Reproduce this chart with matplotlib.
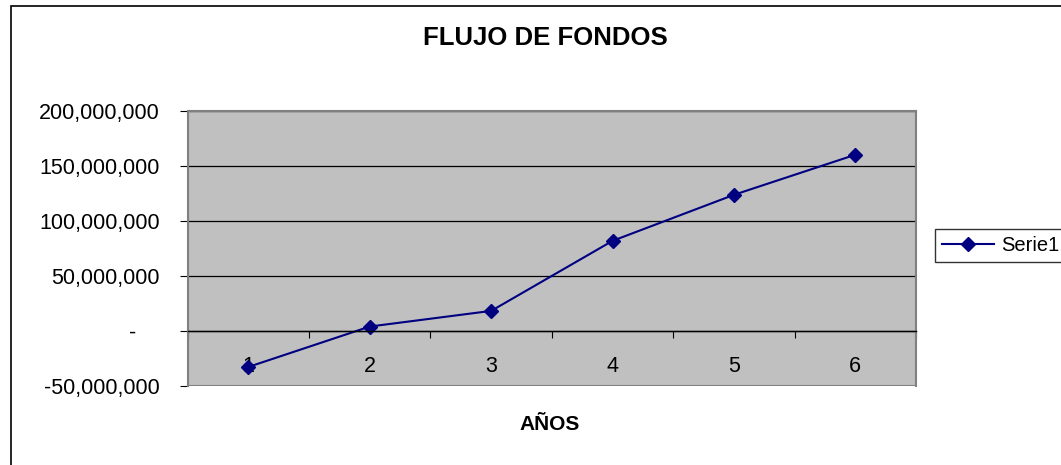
import matplotlib.pyplot as plt
from matplotlib.patches import Rectangle

# data
years = [1, 2, 3, 4, 5, 6]
flujo = [-32700000, 4000000, 18200000, 81800000, 123600000, 160000000]
ytick_vals = [-50000000, 0, 50000000, 100000000, 150000000, 200000000]
ytick_labels = ["-50,000,000", "-    ", "50,000,000", "100,000,000", "150,000,000", "200,000,000"]
serie_name = "Serie1"

plt.rcParams['font.family'] = ['Liberation Sans', 'DejaVu Sans']

W, H = 1061, 465
fig = plt.figure(figsize=(W / 100, H / 100), dpi=100)
fig.patch.set_facecolor('white')

# borde exterior del grafico
fig.patches.append(Rectangle((11 / W, -0.5), 2, 1.5 - 6 / H, transform=fig.transFigure,
                             fill=False, edgecolor='black', lw=1.2))

ax = fig.add_axes([187.7 / W, 1 - 386 / H, (916 - 187.7) / W, (386 - 110.7) / H])
ax.set_facecolor('#C0C0C0')

ax.plot(years, flujo, color='#000080', lw=1.5, marker='D', markersize=7,
        markerfacecolor='#000080', markeredgecolor='#000080', label=serie_name)

ax.set_xlim(0.5, 6.5)
ax.set_ylim(-50000000, 200000000)

# lineas de division
for v in ytick_vals:
    ax.axhline(v, color='black', lw=0.9, zorder=0.5)

ax.set_yticks(ytick_vals)
ax.set_yticklabels(ytick_labels, fontsize=15.5)
ax.tick_params(axis='y', length=6, pad=14, color='black')

# eje x cruza en cero
ax.spines['bottom'].set_position(('data', 0))
ax.spines['bottom'].set_color('black')
ax.spines['bottom'].set_linewidth(1)
ax.set_xticks([0.5, 1.5, 2.5, 3.5, 4.5, 5.5, 6.5])
ax.set_xticklabels([])
ax.set_xticks(years, minor=True)
ax.set_xticklabels([str(y) for y in years], minor=True, fontsize=15.5)
ax.tick_params(axis='x', which='major', length=5, direction='out', color='black')
ax.tick_params(axis='x', which='minor', length=0, pad=18)

for s in ['left', 'right', 'top']:
    ax.spines[s].set_color('#808080')
    ax.spines[s].set_linewidth(1.5)
# borde inferior del area de trazado
ax.add_patch(Rectangle((0, 0), 1, 1, transform=ax.transAxes, fill=False,
                       edgecolor='#808080', lw=1.5, zorder=0.6))

fig.text(545 / W, 1 - 38 / H, "FLUJO DE FONDOS", ha='center', va='center',
         fontsize=18.5, fontweight='bold')
fig.text(550 / W, 1 - 424 / H, "AÑOS", ha='center', va='center',
         fontsize=15, fontweight='bold')

leg = fig.legend(loc='upper left', bbox_to_anchor=(935 / W, 1 - 229 / H),
                 fontsize=14.5, frameon=True, fancybox=False, borderaxespad=0,
                 handlelength=2.6, handletextpad=0.35, borderpad=0.35)
leg.get_frame().set_edgecolor('black')
leg.get_frame().set_linewidth(1)

fig.savefig('out.png', dpi=100)
